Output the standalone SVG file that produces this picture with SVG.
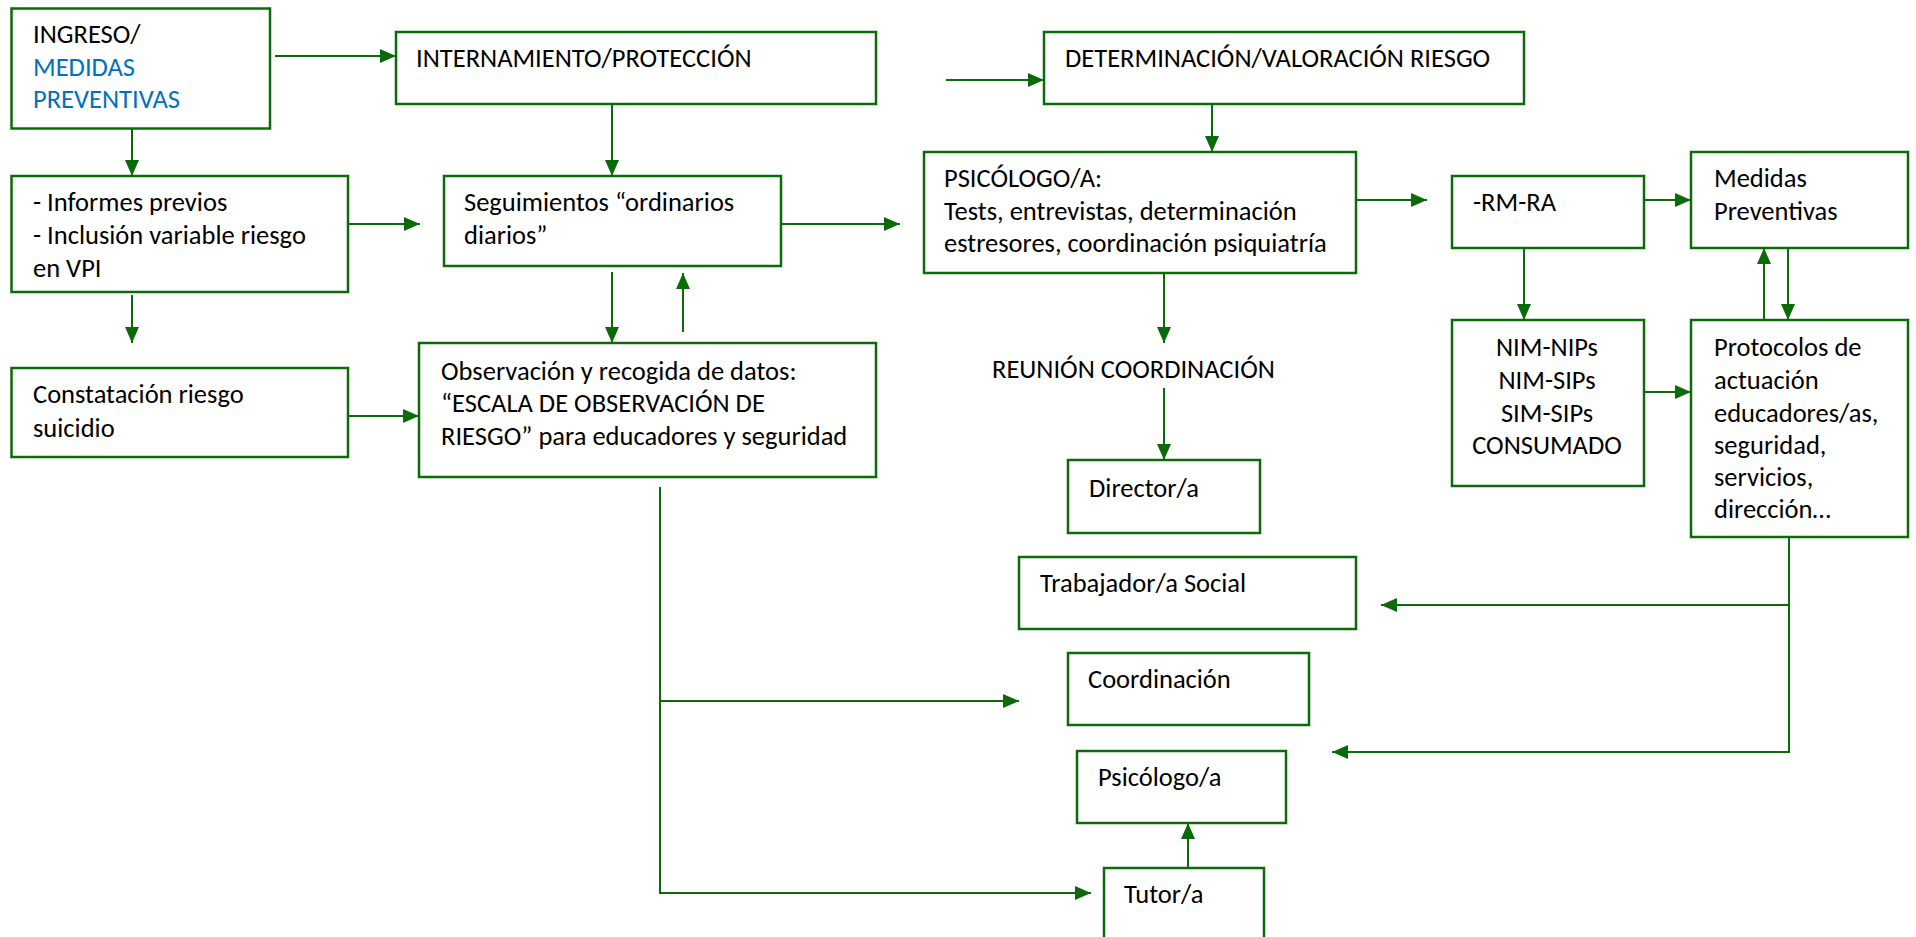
<svg xmlns="http://www.w3.org/2000/svg" width="1916" height="937" viewBox="0 0 1916 937">
<style>
.box{fill:#fff;stroke:#0b6b0b;stroke-width:2.5}
.t{font-family:Carlito,Lato,"Liberation Sans",sans-serif;font-size:26.5px;fill:#000}
.b{fill:#0070c0}
.c{fill:none;stroke:#0b6b0b;stroke-width:2}
.a{marker-end:url(#ah)}
</style>
<defs>
<marker id="ah" markerUnits="userSpaceOnUse" markerWidth="16" markerHeight="14" refX="16" refY="7" orient="auto">
<path d="M0,0 L16,7 L0,14 z" fill="#0b6b0b"/>
</marker>
</defs>
<rect width="1916" height="937" fill="#fff"/>
<g id="connectors">
<path class="c a" d="M275,56 H396"/>
<path class="c a" d="M612,104 V176"/>
<path class="c a" d="M132,128 V176"/>
<path class="c a" d="M348,224 H420"/>
<path class="c a" d="M781,224 H900"/>
<path class="c a" d="M612,272 V343"/>
<path class="c a" d="M683,332 V273"/>
<path class="c a" d="M132,295 V343"/>
<path class="c a" d="M348,416 H419"/>
<path class="c a" d="M946,80 H1044"/>
<path class="c a" d="M1212,104 V152"/>
<path class="c a" d="M1356,200 H1427"/>
<path class="c a" d="M1644,200 H1691"/>
<path class="c a" d="M1524,248 V320"/>
<path class="c a" d="M1764,320 V248"/>
<path class="c a" d="M1788,248 V320"/>
<path class="c a" d="M1644,392 H1691"/>
<path class="c a" d="M1164,268 V343"/>
<path class="c a" d="M1164,388 V460"/>
<path class="c a" d="M1789,537 V752 H1332"/>
<path class="c a" d="M1789,605 H1381"/>
<path class="c a" d="M660,487 V893 H1091"/>
<path class="c a" d="M660,701 H1019"/>
<path class="c a" d="M1188,868 V823"/>
</g>
<g id="ingreso">
<rect class="box" x="11.5" y="8.5" width="258.5" height="120"/>
<text class="t" x="33" y="43">INGRESO/</text>
<text class="t b" x="33" y="76">MEDIDAS</text>
<text class="t b" x="33" y="108">PREVENTIVAS</text>
</g>
<g id="internamiento">
<rect class="box" x="396" y="32" width="480" height="72"/>
<text class="t" x="416" y="67">INTERNAMIENTO/PROTECCIÓN</text>
</g>
<g id="determinacion">
<rect class="box" x="1044" y="32" width="480" height="72"/>
<text class="t" x="1065" y="67">DETERMINACIÓN/VALORACIÓN RIESGO</text>
</g>
<g id="informes">
<rect class="box" x="11.5" y="176" width="336.5" height="116"/>
<text class="t" x="33" y="211">- Informes previos</text>
<text class="t" x="33" y="244">- Inclusión variable riesgo</text>
<text class="t" x="33" y="277">en VPI</text>
</g>
<g id="seguimientos">
<rect class="box" x="444" y="176" width="337" height="90"/>
<text class="t" x="464" y="211">Seguimientos “ordinarios</text>
<text class="t" x="464" y="244">diarios”</text>
</g>
<g id="psicologo-a">
<rect class="box" x="924" y="152" width="432" height="121"/>
<text class="t" x="944" y="187">PSICÓLOGO/A:</text>
<text class="t" x="944" y="220">Tests, entrevistas, determinación</text>
<text class="t" x="944" y="252">estresores, coordinación psiquiatría</text>
</g>
<g id="rmra">
<rect class="box" x="1452" y="176" width="192" height="72"/>
<text class="t" x="1473" y="211">-RM-RA</text>
</g>
<g id="medidas">
<rect class="box" x="1691" y="152" width="217" height="96"/>
<text class="t" x="1714" y="187">Medidas</text>
<text class="t" x="1714" y="220">Preventivas</text>
</g>
<g id="constatacion">
<rect class="box" x="11.5" y="368" width="336.5" height="89"/>
<text class="t" x="33" y="403">Constatación riesgo</text>
<text class="t" x="33" y="437">suicidio</text>
</g>
<g id="observacion">
<rect class="box" x="419" y="343" width="457" height="134"/>
<text class="t" x="441" y="380">Observación y recogida de datos:</text>
<text class="t" x="441" y="412">“ESCALA DE OBSERVACIÓN DE</text>
<text class="t" x="441" y="445">RIESGO” para educadores y seguridad</text>
</g>
<g id="reunion">
<text class="t" x="992" y="378">REUNIÓN COORDINACIÓN</text>
</g>
<g id="nim">
<rect class="box" x="1452" y="320" width="192" height="166"/>
<text class="t" x="1547" y="356" text-anchor="middle">NIM-NIPs</text>
<text class="t" x="1547" y="389" text-anchor="middle">NIM-SIPs</text>
<text class="t" x="1547" y="422" text-anchor="middle">SIM-SIPs</text>
<text class="t" x="1547" y="454" text-anchor="middle">CONSUMADO</text>
</g>
<g id="protocolos">
<rect class="box" x="1691" y="320" width="217" height="217"/>
<text class="t" x="1714" y="356">Protocolos de</text>
<text class="t" x="1714" y="389">actuación</text>
<text class="t" x="1714" y="422">educadores/as,</text>
<text class="t" x="1714" y="454">seguridad,</text>
<text class="t" x="1714" y="486">servicios,</text>
<text class="t" x="1714" y="518">dirección…</text>
</g>
<g id="director">
<rect class="box" x="1068" y="460" width="192" height="73"/>
<text class="t" x="1089" y="497">Director/a</text>
</g>
<g id="trabajador">
<rect class="box" x="1019" y="557" width="337" height="72"/>
<text class="t" x="1040" y="592">Trabajador/a Social</text>
</g>
<g id="coordinacion">
<rect class="box" x="1068" y="653" width="241" height="72"/>
<text class="t" x="1088" y="688">Coordinación</text>
</g>
<g id="psicologo">
<rect class="box" x="1077" y="751" width="209" height="72"/>
<text class="t" x="1098" y="786">Psicólogo/a</text>
</g>
<g id="tutor">
<rect class="box" x="1104" y="868" width="160" height="90"/>
<text class="t" x="1124" y="903">Tutor/a</text>
</g>
</svg>
